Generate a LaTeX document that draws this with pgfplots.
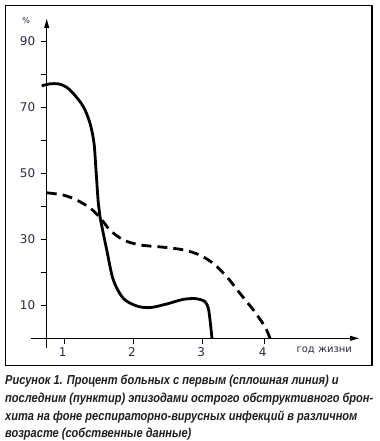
\documentclass[border=0pt]{standalone}
\usepackage{fontspec}
\setmainfont{DejaVu Sans}
\newfontfamily\capfont[FakeStretch=0.85]{Liberation Sans}
\usepackage{pgfplots}
\pgfplotsset{compat=1.18}
\definecolor{lab}{RGB}{40,44,64}
\definecolor{cap}{RGB}{30,30,30}
\begin{document}
\begin{tikzpicture}
\begin{axis}[
  x=69.2pt, y=3.3pt,
  xmin=0.7457, xmax=5.2587, ymin=0, ymax=96.76,
  axis x line*=bottom, axis y line*=left,
  axis line style={draw=none},
  clip=false,
  /pgf/number format/assume math mode=true,
  xtick={1,2,3,3.89}, xticklabels={1,2,3,4},
  ytick={10,20,30,40,50,60,70,80,90}, yticklabels={10,,30,,50,,70,,90},
  tick align=outside, major tick length=6pt,
  tick style={black, line width=0.8pt},
  ticklabel style={font=\fontsize{12}{13}\selectfont, text=lab},
  yticklabel style={xshift=-2pt},
  xticklabel style={xshift=-1.5pt},
]
\addplot[black, line width=2.8pt, smooth, tension=0.5] coordinates {
(0.673,76.5) (0.793,77.1) (0.913,77.1) (1.025,76.2) (1.130,74.2) (1.275,70.2)
(1.371,65.2) (1.429,59.2) (1.458,51.0) (1.491,41.0) (1.516,36.8) (1.613,26.8)
(1.708,17.7) (1.853,12.1) (2.046,9.8) (2.238,9.3) (2.480,10.4) (2.720,11.8)
(2.913,12.0) (3.033,11.1) (3.081,9.1) (3.106,5.5) (3.134,0)
};
\addplot[black, line width=2.8pt, smooth, tension=0.5, dash pattern=on 10pt off 6pt] coordinates {
(0.746,44.1) (0.986,43.4) (1.179,41.9) (1.371,39.5) (1.516,36.6) (1.660,32.8)
(1.853,29.8) (2.094,28.3) (2.431,27.6) (2.720,26.8) (2.961,25.2) (3.163,22.5)
(3.358,18.4) (3.539,13.6) (3.731,8.6) (3.900,3.5) (3.972,0)
};
\coordinate (PTL) at (axis cs:0.0708,102.515);
\coordinate (PBR) at (axis cs:5.5477,-31.121);
\coordinate (FTL) at (axis cs:0.1474,100.85);
\coordinate (FBR) at (axis cs:5.4465,-8.242);
\coordinate (XL) at (axis cs:0.5188,0);
\coordinate (XR) at (axis cs:5.2587,0);
\coordinate (YB) at (axis cs:0.7457,-2.94);
\coordinate (YT) at (axis cs:0.7457,96.76);
\node[text=lab, font=\fontsize{8}{9}\selectfont] at (axis cs:0.45,96.15) {\%};
\node[text=lab, anchor=base, font=\fontsize{10}{11}\selectfont] at (axis cs:4.757,-4.45) {год жизни};
\begin{scope}[every node/.style={anchor=base west, inner sep=0pt, text=cap, font=\capfont\bfseries\itshape\fontsize{13}{14}\selectfont}]
\node at (axis cs:0.143,-13.94) {Рисунок 1. Процент больных с первым (сплошная линия) и};
\node at (axis cs:0.143,-19.39) {последним (пунктир) эпизодами острого обструктивного брон-};
\node at (axis cs:0.143,-24.85) {хита на фоне респираторно-вирусных инфекций в различном};
\node at (axis cs:0.143,-30.15) {возрасте (собственные данные)};
\end{scope}
\end{axis}
\draw[black, line width=0.9pt] (XL) -- ([xshift=-4pt]XR);
\draw[black, line width=0.9pt] (YB) -- ([yshift=-4pt]YT);
\fill[black] (XR) -- ++(-9pt,2.6pt) -- ++(0,-5.2pt) -- cycle;
\fill[black] (YT) -- ++(2.6pt,-9pt) -- ++(-5.2pt,0) -- cycle;
\draw[line width=1.2pt] (FTL) rectangle (FBR);
\pgfresetboundingbox
\path[use as bounding box] (PTL) rectangle (PBR);
\end{tikzpicture}
\end{document}
